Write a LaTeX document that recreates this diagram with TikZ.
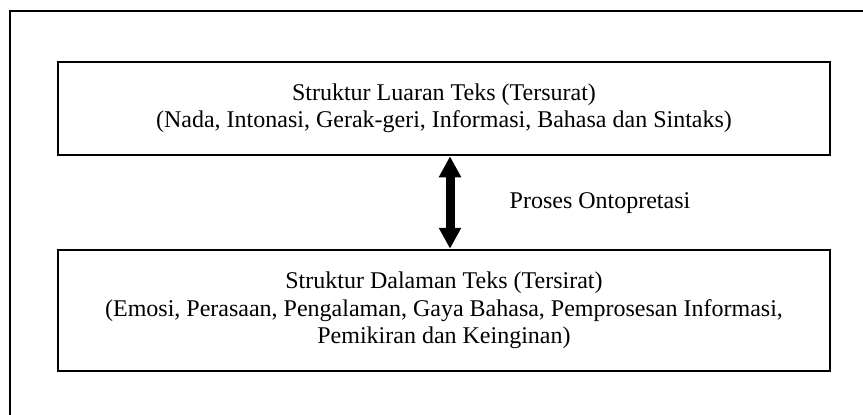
\documentclass[tikz,border=0pt]{standalone}
\usepackage{fontspec}
\setmainfont{Liberation Serif}
\usetikzlibrary{arrows.meta}
\begin{document}
\begin{tikzpicture}[x=1pt,y=-1pt,line width=2.5pt,
  kotak/.style={draw,rectangle,align=center,minimum width=772pt,inner sep=0pt,
    font=\fontsize{24}{27.5}\selectfont},
  panah/.style={line width=9pt,{Triangle[width=21pt,length=21pt]}-{Triangle[width=21pt,length=21pt]}}]
\clip (0,0) rectangle (863,415);
% bingkai luar
\draw (10,11) rectangle (900,460);
\node[kotak,minimum height=93pt] (luar) at (444,108.5)
  {Struktur Luaran Teks (Tersurat)\\
   (Nada, Intonasi, Gerak-geri, Informasi, Bahasa dan Sintaks)};
\node[kotak,minimum height=121pt] (dalam) at (444,310.5)
  {Struktur Dalaman Teks (Tersirat)\\
   (Emosi, Perasaan, Pengalaman, Gaya Bahasa, Pemprosesan Informasi,\\
   Pemikiran dan Keinginan)};
\draw[panah] ([xshift=6pt]luar.south) -- ([xshift=6pt]dalam.north);
\node[font=\fontsize{24}{27.5}\selectfont] (proses) at (600,203) {Proses Ontopretasi};
\end{tikzpicture}
\end{document}
